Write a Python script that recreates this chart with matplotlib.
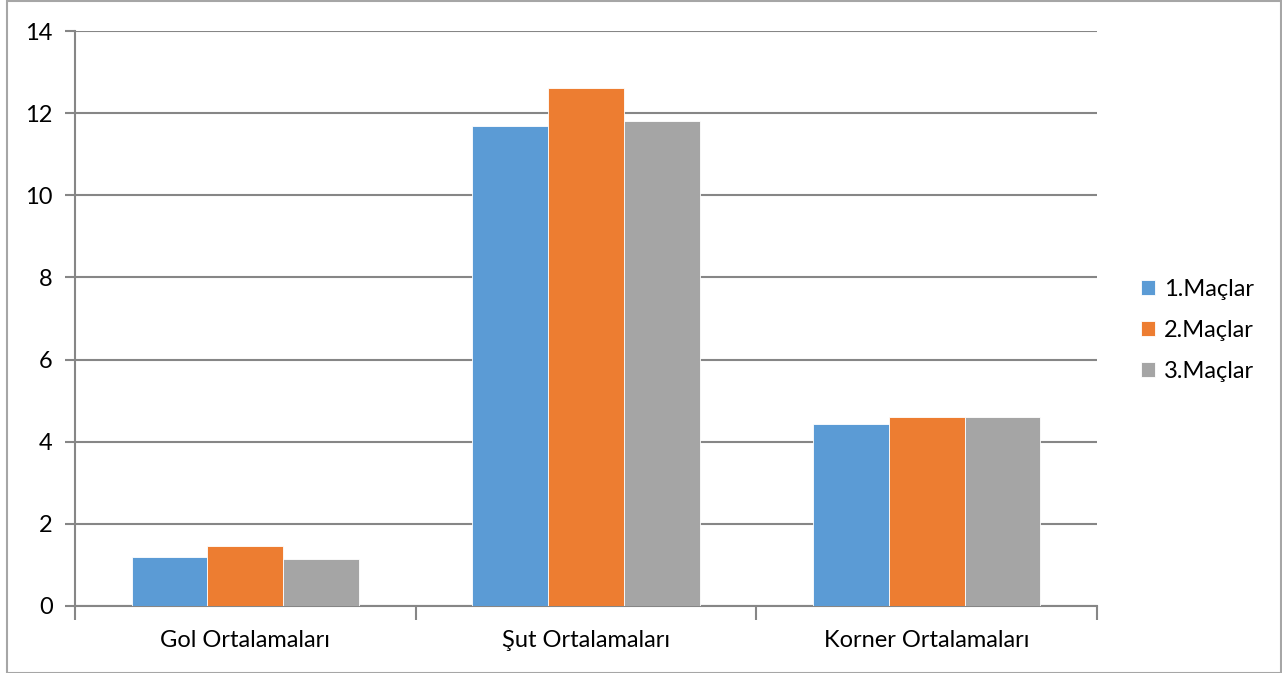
import numpy as np
from matplotlib import pyplot as plt
from matplotlib.patches import Rectangle

# Data
categories = ["Gol Ortalamaları", "Şut Ortalamaları", "Korner Ortalamaları"]
series_names = ["1.Maçlar", "2.Maçlar", "3.Maçlar"]
mac1 = [1.19, 11.68, 4.44]
mac2 = [1.47, 12.62, 4.60]
mac3 = [1.15, 11.80, 4.59]
colors = ["#5B9BD5", "#ED7D31", "#A5A5A5"]

plt.rcParams['font.family'] = ['Lato', 'DejaVu Sans']

fig = plt.figure(figsize=(12.82, 6.73), dpi=100)
ax = fig.add_axes([75 / 1282, 1 - 606 / 673, 1022 / 1282, 575 / 673])

# outer chart border
fig.patches.append(Rectangle((7 / 1282, 0.5 / 673), 1273.5 / 1282, 671.5 / 673,
                             transform=fig.transFigure, fill=False,
                             edgecolor="#A6A6A6", linewidth=1.5))

x = np.arange(len(categories))
w = 1 / 4.5
for i, (vals, name) in enumerate(zip([mac1, mac2, mac3], series_names)):
    ax.bar(x + (i - 1) * w, vals, width=w, color=colors[i], label=name,
           edgecolor="white", linewidth=0.6, zorder=3)

ax.set_xlim(-0.5, 2.5)
ax.set_ylim(0, 14)
ax.set_yticks(np.arange(0, 15, 2))
ax.yaxis.grid(True, color="#868686", linewidth=1.5, zorder=0)

# category tick marks between groups
ax.set_xticks([-0.5, 0.5, 1.5, 2.5])
ax.set_xticklabels([])
ax.set_xticks(x, minor=True)
ax.set_xticklabels(categories, minor=True)
ax.tick_params(axis="x", which="major", direction="out", length=10,
               width=1.5, color="#868686")
ax.tick_params(axis="x", which="minor", length=0, pad=17, labelsize=17)
ax.tick_params(axis="y", direction="out", length=7, width=1.5,
               color="#868686", pad=9, labelsize=17)

for s in ["top", "right"]:
    ax.spines[s].set_visible(False)
for s in ["left", "bottom"]:
    ax.spines[s].set_color("#868686")
    ax.spines[s].set_linewidth(1.5)

leg = ax.legend(loc="center left", bbox_to_anchor=(1.022, 0.479), frameon=False,
                fontsize=17, handlelength=0.6, handleheight=0.6,
                handletextpad=0.4, labelspacing=0.85)

fig.savefig("out.png", dpi=100)
